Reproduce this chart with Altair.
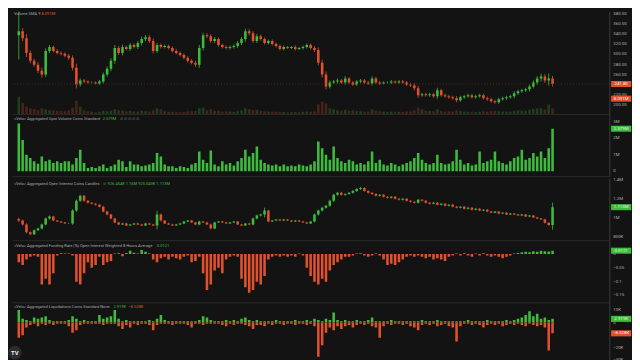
import altair as alt
import pandas as pd

# ---------------- data ----------------
close = [
    345.7, 332.1, 303.0, 287.5, 279.7, 268.1, 260.3, 306.9, 314.6, 306.9,
    303.0, 301.1, 297.2, 293.3, 273.9, 240.9, 248.7, 246.7, 244.8, 244.8,
    242.9, 246.7, 260.3, 272.0, 287.5, 312.7, 303.0, 314.6, 310.8, 318.5,
    314.6, 322.4, 330.2, 334.0, 326.3, 306.9, 318.5, 314.6, 316.6, 312.7,
    306.9, 303.0, 299.1, 293.3, 287.5, 283.6, 279.7, 312.7, 337.9, 336.0,
    326.3, 330.2, 318.5, 314.6, 312.7, 314.6, 316.6, 322.4, 330.2, 345.7,
    341.8, 326.3, 336.0, 330.2, 322.4, 326.3, 320.5, 316.6, 310.8, 314.6,
    312.7, 314.6, 310.8, 312.7, 314.6, 318.5, 312.7, 308.8, 283.6, 260.3,
    237.0, 244.8, 246.7, 248.7, 244.8, 252.6, 244.8, 240.9, 246.7, 248.7,
    244.8, 242.9, 252.6, 244.8, 242.9, 244.8, 244.8, 246.7, 244.8, 246.7,
    244.8, 240.9, 239.0, 233.2, 219.6, 221.5, 219.6, 221.5, 217.6, 229.3,
    219.6, 217.6, 215.7, 213.8, 209.9, 215.7, 217.6, 219.6, 215.7, 217.6,
    219.6, 213.8, 211.8, 207.9, 206.0, 211.8, 213.8, 215.7, 217.6, 223.5,
    227.3, 229.3, 231.2, 237.0, 244.8, 252.6, 256.4, 248.7, 252.6, 241.8,
]
first_open = 338.0
wick = [
    48, 6, 8, 5, 4, 5, 6, 5, 4, 3,
    3, 3, 3, 4, 5, 8, 4, 3, 2, 2,
    2, 3, 4, 4, 5, 6, 4, 5, 3, 4,
    3, 4, 5, 4, 4, 5, 4, 3, 3, 3,
    3, 3, 3, 3, 3, 3, 4, 6, 5, 4,
    4, 4, 3, 3, 3, 3, 3, 4, 4, 5,
    4, 4, 4, 3, 3, 3, 3, 3, 3, 3,
    2, 2, 3, 2, 3, 3, 3, 4, 5, 6,
    6, 4, 3, 4, 3, 5, 3, 3, 3, 3,
    3, 3, 4, 3, 3, 2, 2, 3, 2, 3,
    3, 3, 3, 4, 5, 3, 3, 3, 3, 5,
    3, 3, 3, 3, 4, 3, 3, 3, 3, 3,
    3, 3, 3, 3, 3, 3, 3, 3, 3, 4,
    3, 3, 3, 4, 4, 5, 6, 5, 10, 5,
]
volume = [
    9.0, 6.0, 4.0, 3.0, 2.5, 2.0, 3.0, 2.5, 2.0, 2.0,
    1.8, 1.6, 1.5, 2.0, 3.5, 7.0, 4.0, 2.0, 1.5, 1.2,
    1.0, 1.2, 1.8, 1.5, 1.8, 2.5, 2.0, 1.8, 1.5, 1.6,
    1.5, 1.4, 1.8, 1.5, 1.3, 2.0, 3.0, 2.5, 1.5, 1.2,
    1.2, 1.0, 1.0, 1.2, 1.5, 1.5, 1.6, 3.0, 3.5, 2.0,
    2.5, 1.8, 1.6, 1.4, 1.5, 1.3, 1.2, 1.5, 2.0, 3.0,
    2.5, 2.0, 2.2, 1.8, 1.5, 1.4, 1.3, 1.2, 1.2, 1.1,
    1.0, 1.0, 1.1, 1.0, 1.2, 1.3, 1.2, 1.5, 5.0, 6.5,
    5.5, 3.0, 2.5, 2.0, 1.8, 2.2, 1.8, 2.0, 1.6, 1.5,
    1.4, 1.3, 2.5, 1.8, 1.5, 1.4, 1.2, 1.3, 1.2, 1.2,
    1.1, 1.3, 1.5, 2.0, 3.5, 2.5, 1.8, 1.6, 1.5, 2.5,
    1.6, 1.4, 1.5, 1.4, 2.0, 1.6, 1.3, 1.2, 1.2, 1.1,
    1.2, 1.5, 1.4, 1.6, 1.8, 1.5, 1.4, 1.3, 1.4, 1.8,
    2.0, 1.8, 1.8, 2.2, 2.8, 3.0, 3.2, 2.5, 5.0, 3.0,
]
spot_volume = [
    2.9, 1.9, 1.0, 0.8, 0.6, 0.45, 0.9, 0.6, 0.7, 0.5,
    0.6, 0.5, 0.6, 0.6, 0.4, 0.8, 1.3, 0.5, 0.2, 0.25,
    0.2, 0.3, 0.4, 0.2, 0.3, 0.4, 0.7, 0.6, 0.25, 0.6,
    0.4, 0.4, 0.3, 0.35, 0.4, 0.5, 1.1, 0.9, 0.4, 0.3,
    0.3, 0.2, 0.3, 0.25, 0.2, 0.4, 0.5, 1.2, 0.7, 0.5,
    1.25, 0.4, 0.3, 0.6, 0.4, 0.5, 0.35, 0.6, 0.8, 1.3,
    0.9, 1.1, 1.5, 0.7, 0.5, 0.4, 0.35, 0.4, 0.3, 0.4,
    0.3, 0.35, 0.3, 0.4, 0.35, 0.3, 0.4, 0.6, 1.8, 1.4,
    1.0, 0.7, 1.5, 0.8, 0.6, 0.5, 0.7, 0.6, 0.4, 0.5,
    0.4, 0.6, 1.2, 0.5, 0.7, 0.4, 0.35, 0.5, 0.4, 0.3,
    0.4, 0.5, 0.6, 0.8, 1.1, 0.7, 0.5, 0.4, 0.5, 1.0,
    0.5, 0.4, 0.45, 0.6, 1.3, 0.7, 0.4, 0.5, 0.35, 0.4,
    1.2, 0.5, 0.6, 0.7, 1.2, 0.6, 0.5, 0.4, 0.6, 0.8,
    0.9, 1.3, 0.7, 0.8, 1.1, 0.9, 1.2, 0.8, 1.4, 2.579,
]
oi_close = [
    974, 933, 851, 831, 872, 892, 933, 995, 1015, 974,
    964, 954, 944, 944, 1077, 1179, 1231, 1179, 1159, 1149,
    1138, 1118, 1067, 1036, 995, 954, 933, 944, 923, 933,
    944, 933, 923, 944, 933, 923, 1036, 974, 944, 933,
    923, 933, 944, 964, 974, 954, 933, 964, 954, 933,
    892, 954, 964, 954, 944, 954, 964, 933, 923, 944,
    933, 995, 1026, 1036, 1077, 964, 974, 985, 974, 985,
    974, 964, 974, 964, 954, 944, 964, 1036, 1077, 1108,
    1128, 1179, 1241, 1262, 1241, 1251, 1262, 1282, 1303, 1313,
    1282, 1262, 1251, 1231, 1241, 1221, 1210, 1221, 1200, 1190,
    1200, 1179, 1169, 1159, 1190, 1179, 1159, 1149, 1159, 1138,
    1149, 1128, 1138, 1118, 1108, 1118, 1097, 1108, 1087, 1097,
    1077, 1087, 1067, 1056, 1067, 1046, 1056, 1036, 1046, 1036,
    1026, 1036, 1015, 1026, 1005, 995, 985, 950, 926.5, 1113,
]
oi_first_open = 990.0
oi_wick = [
    15, 10, 12, 10, 8, 8, 10, 10, 12, 8,
    6, 6, 6, 6, 15, 15, 12, 10, 8, 8,
    8, 8, 10, 8, 8, 8, 6, 6, 6, 6,
    6, 6, 6, 6, 6, 6, 40, 10, 6, 6,
    6, 6, 6, 6, 6, 6, 6, 8, 6, 6,
    10, 8, 6, 6, 6, 6, 6, 6, 6, 6,
    6, 10, 10, 10, 30, 8, 6, 6, 6, 6,
    6, 6, 6, 6, 6, 6, 6, 10, 10, 10,
    10, 12, 12, 10, 10, 10, 10, 10, 10, 10,
    8, 8, 8, 8, 8, 8, 8, 8, 8, 8,
    8, 8, 8, 8, 8, 8, 8, 8, 8, 8,
    8, 8, 8, 8, 8, 8, 8, 8, 8, 8,
    6, 6, 6, 6, 6, 6, 6, 6, 6, 6,
    6, 6, 6, 6, 6, 6, 6, 8, 6, 47,
]
funding = [
    -0.03, -0.04, -0.02, -0.01, -0.005, -0.01, -0.11, -0.09, -0.11, -0.07,
    -0.005, 0.003, 0.002, 0.002, -0.005, -0.1, -0.11, -0.07, -0.03, -0.05,
    -0.04, -0.01, -0.04, -0.03, -0.025, 0.002, 0.003, -0.008, 0.004, 0.012,
    0.005, 0.002, 0.015, 0.008, 0.002, -0.02, -0.03, -0.015, -0.01, -0.02,
    -0.01, -0.015, -0.02, -0.01, -0.005, -0.03, -0.025, -0.01, -0.07, -0.13,
    -0.11, -0.06, -0.05, -0.07, -0.02, -0.01, -0.005, -0.01, -0.09, -0.12,
    -0.14, -0.13, -0.1, -0.11, -0.08, -0.02, -0.01, -0.005, -0.01, -0.005,
    -0.01, -0.005, -0.01, 0.002, -0.005, -0.05, -0.08, -0.1, -0.11, -0.09,
    -0.1, -0.06, -0.04, -0.03, -0.02, -0.01, -0.01, -0.005, 0.002, 0.003,
    -0.005, -0.01, -0.005, 0.002, -0.005, -0.02, -0.04, -0.035, -0.04, -0.03,
    -0.02, -0.01, -0.005, -0.01, -0.005, -0.01, -0.015, -0.01, -0.02, -0.015,
    -0.02, -0.025, -0.01, -0.005, 0.002, -0.005, 0.003, -0.005, -0.01, 0.002,
    -0.005, 0.003, -0.005, -0.01, -0.005, -0.01, -0.015, -0.01, -0.005, 0.002,
    0.004, 0.006, 0.008, 0.006, 0.01, 0.008, 0.012, 0.01, 0.009, 0.0121,
]
liq_short = [
    10, 3, 2, 1, 4, 3, 4, 5, 2, 1,
    1, 1, 1, 2, 5, 3, 1, 2, 1, 1,
    1, 6, 3, 4, 5, 10, 3, 1, 2, 1,
    1, 1, 1, 1, 2, 1, 3, 6, 2, 1,
    1, 1, 1, 1, 1, 1, 1, 2, 5, 4,
    2, 1, 1, 1, 2, 1, 2, 1, 3, 4,
    2, 1, 2, 1, 1, 1, 1, 2, 1, 1,
    1, 1, 2, 1, 1, 2, 1, 3, 2, 1,
    3, 2, 8, 2, 1, 2, 1, 1, 2, 1,
    1, 2, 4, 1, 1, 1, 1, 2, 1, 1,
    1, 1, 1, 1, 1, 2, 1, 1, 1, 2,
    1, 1, 1, 1, 1, 1, 1, 2, 1, 1,
    1, 1, 2, 1, 1, 1, 1, 2, 1, 2,
    3, 4, 6, 9, 5, 7, 3, 4, 2, 2.919,
]
liq_long = [
    -12, -10, -4, -2, -1, -3, -1, -2, -1, -2,
    -1, -1, -1, -3, -8, -6, -2, -1, -1, -1,
    -1, -1, -2, -1, -1, -1, -3, -5, -2, -4,
    -1, -2, -1, -1, -2, -6, -2, -1, -1, -1,
    -2, -1, -1, -1, -2, -4, -1, -1, -2, -1,
    -1, -1, -1, -2, -3, -1, -2, -1, -1, -2,
    -3, -5, -2, -2, -3, -1, -2, -1, -1, -2,
    -1, -1, -2, -1, -1, -2, -1, -3, -27, -18,
    -8, -4, -6, -3, -5, -3, -2, -4, -2, -1,
    -2, -1, -3, -4, -12, -3, -1, -2, -1, -1,
    -2, -1, -3, -4, -6, -2, -1, -2, -1, -3,
    -2, -1, -3, -4, -15, -3, -1, -1, -2, -1,
    -2, -4, -2, -1, -2, -1, -3, -2, -1, -2,
    -1, -2, -3, -1, -2, -3, -2, -4, -22, -8.528,
]

# axis tick values and their labels (as shown in the reference)
price_ticks = [200, 220, 240, 260, 280, 300, 320, 340, 360, 380]
price_tick_labels = ["200.00", "220.00", "240.00", "260.00", "280.00",
                     "300.00", "320.00", "340.00", "360.00", "380.00"]
spot_ticks = [0, 1, 2, 3]
spot_tick_labels = ["0", "1M", "2M", "3M"]
oi_ticks = [800, 1000, 1200, 1400]
oi_tick_labels = ["800K", "1M", "1.2M", "1.4M"]
funding_ticks = [0, -0.05, -0.1, -0.15]
funding_tick_labels = ["0", "\u22120.05", "\u22120.1", "\u22120.15"]
liq_ticks = [10, 0, -20, -30]
liq_tick_labels = ["10K", "0", "\u221220K", "\u221230K"]

N = len(close)
for arr in [wick, volume, spot_volume, oi_close, oi_wick, funding, liq_short, liq_long]:
    assert len(arr) == N, len(arr)

# ---------------- style ----------------
BG = "#131313"
GREEN = "#3dbb3d"
RED = "#e0512c"
TXT = "#a8a8a8"
AXT = "#b0b0b0"
AXL = "#3a3a3a"
SEP = "#2a2a2a"
FONT = "Roboto"
FS = 4.1
FSA = 4.4
W = 606
XDOM = [-0.5, 152.5]


def candle_frame(closes, first, wicks):
    opens = [first] + closes[:-1]
    rows = []
    for i, (o, c, w) in enumerate(zip(opens, closes, wicks)):
        rows.append({"i": i, "open": o, "close": c,
                     "high": max(o, c) + w, "low": min(o, c) - w,
                     "dir": "up" if c >= o else "down"})
    return pd.DataFrame(rows)


X = alt.X("i:Q", scale=alt.Scale(domain=XDOM, nice=False, zero=False),
          axis=alt.Axis(labels=False, ticks=False, grid=False, title=None,
                        domainColor=SEP, domainWidth=1))
COLOR = alt.Color("dir:N", scale=alt.Scale(domain=["up", "down"], range=[GREEN, RED]),
                  legend=None)


def yaxis(values):
    return alt.Axis(orient="right", values=values, labels=False, ticks=False, grid=False,
                    title=None, domainColor=AXL, domainWidth=1)


def ticktext(values, texts):
    d = pd.DataFrame({"tv": values, "tt": texts})
    return alt.Chart(d).mark_text(font=FONT, fontSize=FSA, color=AXT, align="left",
                                  baseline="middle").encode(
        x=alt.value(W + 4), y=alt.Y("tv:Q"), text="tt:N")


BOX = "M-1,-0.3H1V0.3H-1Z"


def tag(value, text, color, scale=None):
    d = pd.DataFrame({"t": [text]})
    ypos = alt.YDatum(value, scale=scale, axis=None) if scale is not None else alt.datum(value)
    b = alt.Chart(d).mark_point(shape=BOX, filled=True, size=420, opacity=1,
                                color=color, strokeWidth=0).encode(
        x=alt.value(W + 12), y=ypos)
    t = alt.Chart(d).mark_text(font=FONT, fontSize=FSA, color="#f2f2f2",
                               align="center", baseline="middle").encode(
        x=alt.value(W + 12), y=ypos, text="t:N")
    return [b, t]


def label(text, x, y, color):
    return alt.Chart(pd.DataFrame({"t": [text]})).mark_text(
        font=FONT, fontSize=FS, color=color, align="left", baseline="middle").encode(
        x=alt.value(x), y=alt.value(y), text="t:N")


# ---------------- price panel ----------------
pdf = candle_frame(close, first_open, wick)
pdf["vol"] = volume
PRICE_SCALE = alt.Scale(domain=[182.6, 384.5], nice=False, zero=False)

p_wick = alt.Chart(pdf).mark_rule(strokeWidth=0.8, clip=True).encode(
    x=X, y=alt.Y("low:Q", scale=PRICE_SCALE, axis=yaxis(price_ticks)), y2="high:Q",
    color=COLOR)
p_body = alt.Chart(pdf).mark_bar(width=2.6, clip=True).encode(
    x=X, y=alt.Y("open:Q"), y2="close:Q", color=COLOR)
p_line = alt.Chart(pd.DataFrame({"t": [0]})).mark_rule(
    color="#5a2a1c", strokeDash=[1, 2], strokeWidth=1).encode(y=alt.datum(close[-1]))
price_layers = alt.layer(p_wick, p_body, p_line, ticktext(price_ticks, price_tick_labels),
                         *tag(close[-1], "241.80", RED))

VOL_SCALE = alt.Scale(domain=[0, 54], nice=False)
v_bars = alt.Chart(pdf).mark_bar(width=2.6, opacity=0.26, clip=True).encode(
    x=X, y=alt.Y("vol:Q", scale=VOL_SCALE, axis=None), y2=alt.datum(0), color=COLOR)
vol_tag = alt.layer(*tag(8.091, "8.091M", RED, scale=VOL_SCALE))

price_panel = alt.layer(
    v_bars, price_layers, vol_tag,
    label("Volume  SMA 9", 2, 3, TXT), label("8.091M", 30, 3, RED),
).resolve_scale(y="independent").properties(width=W, height=104)

# ---------------- spot volume panel ----------------
sdf = pd.DataFrame({"i": range(N), "v": spot_volume})
s_bars = alt.Chart(sdf).mark_bar(width=2.6, color=GREEN, clip=True).encode(
    x=X,
    y=alt.Y("v:Q", scale=alt.Scale(domain=[-0.3, 3.47], nice=False, zero=False),
            axis=yaxis(spot_ticks)),
    y2=alt.datum(0))
spot_panel = alt.layer(
    s_bars, ticktext(spot_ticks, spot_tick_labels), *tag(2.579, "2.579M", GREEN),
    label("<Velo> Aggregated Spot Volume Coins Standard", 2, 5, TXT),
    label("2.579M", 92, 5, GREEN),
    label("\u2298 \u2298 \u2298 \u2298 \u2298", 110, 5, "#6a6a6a"),
).properties(width=W, height=63)

# ---------------- open interest panel ----------------
odf = candle_frame(oi_close, oi_first_open, oi_wick)
OI_SCALE = alt.Scale(domain=[769, 1415], nice=False, zero=False)
o_wick = alt.Chart(odf).mark_rule(strokeWidth=0.8, clip=True).encode(
    x=X, y=alt.Y("low:Q", scale=OI_SCALE, axis=yaxis(oi_ticks)), y2="high:Q", color=COLOR)
o_body = alt.Chart(odf).mark_bar(width=2.6, clip=True).encode(
    x=X, y=alt.Y("open:Q"), y2="close:Q", color=COLOR)
oi_panel = alt.layer(
    o_wick, o_body, ticktext(oi_ticks, oi_tick_labels), *tag(1113, "1.113M", GREEN),
    label("<Velo> Aggregated Open Interest Coins Candles", 2, 6, TXT),
    label("\u2298", 92, 6, "#6a6a6a"),
    label("926.454K   1.16M   925.043K   1.113M", 97, 6, GREEN),
).properties(width=W, height=63)

# ---------------- funding panel ----------------
fdf = pd.DataFrame({"i": range(N), "f": funding,
                    "dir": ["up" if v >= 0 else "down" for v in funding]})
f_bars = alt.Chart(fdf).mark_bar(width=2.6, clip=True).encode(
    x=X,
    y=alt.Y("f:Q", scale=alt.Scale(domain=[-0.175, 0.05], nice=False, zero=False),
            axis=yaxis(funding_ticks)),
    y2=alt.datum(0), color=COLOR)
funding_panel = alt.layer(
    f_bars, ticktext(funding_ticks, funding_tick_labels), *tag(0.0121, "0.0121", GREEN),
    label("<Velo> Aggregated Funding Rate (%) Open Interest Weighted 8 Hours Average", 2, 6, TXT),
    label("0.0121", 147, 6, GREEN),
).properties(width=W, height=63)

# ---------------- liquidations panel ----------------
ldf = pd.DataFrame({"i": list(range(N)) * 2,
                    "v": liq_short + liq_long,
                    "dir": ["up"] * N + ["down"] * N})
l_bars = alt.Chart(ldf).mark_bar(width=2.6, clip=True).encode(
    x=X,
    y=alt.Y("v:Q", scale=alt.Scale(domain=[-30, 16], nice=False, zero=False),
            axis=yaxis(liq_ticks)),
    y2=alt.datum(0), color=COLOR)
logo = alt.Chart(pd.DataFrame({"t": ["TV"]}))
liq_panel = alt.layer(
    l_bars, ticktext(liq_ticks, liq_tick_labels),
    *tag(2.919, "2.919K", GREEN), *tag(-8.528, "\u22128.528K", RED),
    label("<Velo> Aggregated Liquidations Coins Standard None", 2, 5, TXT),
    label("2.919K", 103, 5, GREEN),
    label("\u22128.528K", 118, 5, RED),
    logo.mark_point(shape="circle", filled=True, size=190, color="#2b2b2b", opacity=1).encode(
        x=alt.value(3), y=alt.value(51)),
    logo.mark_text(font=FONT, fontSize=6, fontWeight="bold", color="#f0f0f0").encode(
        x=alt.value(3), y=alt.value(51), text="t:N"),
).properties(width=W, height=59)

chart = alt.vconcat(
    price_panel, spot_panel, oi_panel, funding_panel, liq_panel, spacing=0
).properties(background=BG, padding=0).configure_view(stroke=None)

chart.save("out.html", embed_options={"renderer": "svg", "actions": False})
